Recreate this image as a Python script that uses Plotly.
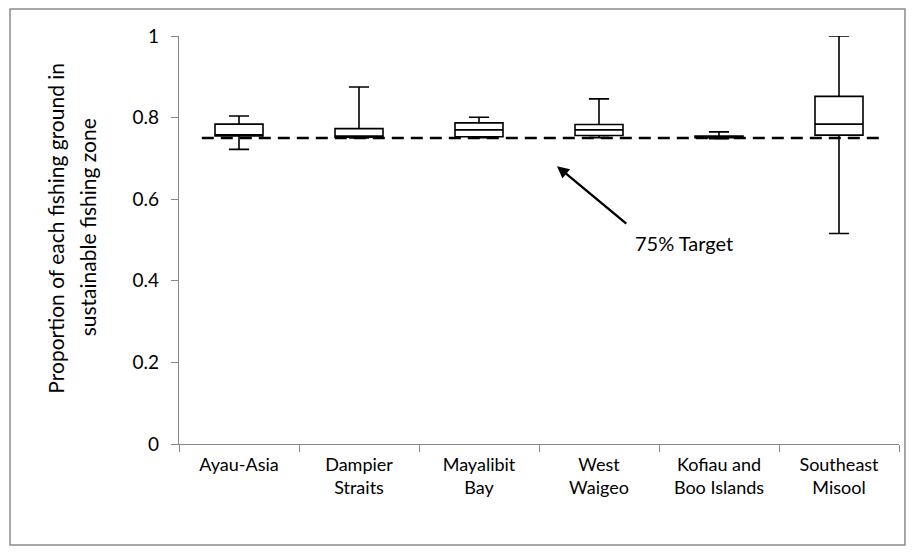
import plotly.graph_objects as go

categories = ["Ayau-Asia", "Dampier<br>Straits", "Mayalibit<br>Bay", "West<br>Waigeo",
              "Kofiau and<br>Boo Islands", "Southeast<br>Misool"]
lower_whisker = [0.722, 0.750, 0.751, 0.751, 0.748, 0.516]
q1 = [0.755, 0.752, 0.753, 0.756, 0.751, 0.757]
median = [0.758, 0.755, 0.770, 0.770, 0.753, 0.784]
q3 = [0.784, 0.773, 0.787, 0.783, 0.755, 0.852]
upper_whisker = [0.804, 0.875, 0.801, 0.846, 0.765, 1.0]
target = 0.75
y_ticks = [0, 0.2, 0.4, 0.6, 0.8, 1]
y_tick_text = ["0", "0.2", "0.4", "0.6", "0.8", "1"]
y_title_lines = ["Proportion of each fishing ground in", "sustainable fishing zone"]

FONT = "Lato"

fig = go.Figure()
fig.add_trace(go.Box(
    x=categories, q1=q1, median=median, q3=q3,
    lowerfence=lower_whisker, upperfence=upper_whisker,
    fillcolor="white", line=dict(color="black", width=1.6),
    width=0.4, whiskerwidth=0.42, boxpoints=False, showlegend=False,
    hoverinfo="skip",
))

# 75% target dashed line
fig.add_shape(type="line", xref="x", yref="y", x0=-0.31, x1=5.36, y0=target, y1=target,
              line=dict(color="black", width=2.6, dash="12px,7px"), layer="above")

# arrow
fig.add_annotation(x=2.65, y=0.681, ax=3.24, ay=0.537, xref="x", yref="y",
                   axref="x", ayref="y", showarrow=True, arrowhead=2, arrowsize=1,
                   arrowwidth=2.4, arrowcolor="black", text="")
fig.add_annotation(x=3.28, y=0.493, xref="x", yref="y", text="75% Target",
                   showarrow=False, xanchor="left", yanchor="middle",
                   font=dict(family=FONT, size=20, color="black"))

# y-axis title (two rotated lines)
for txt, xp in zip(y_title_lines, [-0.171, -0.127]):
    fig.add_annotation(x=xp, y=0.53, xref="paper", yref="paper", text=txt,
                       textangle=-90, showarrow=False, xanchor="center", yanchor="middle",
                       font=dict(family=FONT, size=21, color="black"))

# outer border
fig.add_shape(type="rect", xref="paper", yref="paper",
              x0=-0.2347, x1=1.0083, y0=-0.2475, y1=1.066,
              line=dict(color="#8c8c8c", width=1.5), fillcolor="rgba(0,0,0,0)")

fig.update_layout(
    width=914, height=553,
    margin=dict(l=171, r=23, t=28, b=117),
    paper_bgcolor="white", plot_bgcolor="white",
    font=dict(family=FONT, size=18, color="black"),
    xaxis=dict(showline=True, linecolor="#868686", linewidth=1.3, ticks="outside",
               tickson="boundaries", ticklen=7, tickcolor="#868686", showgrid=False,
               zeroline=False, tickfont=dict(size=18, family=FONT), ticklabelstandoff=4,
               fixedrange=True),
    yaxis=dict(range=[0, 1], tickvals=y_ticks, ticktext=y_tick_text, showline=True,
               linecolor="#868686", linewidth=1.3, ticks="outside", ticklen=7,
               tickcolor="#868686", showgrid=False, zeroline=False,
               tickfont=dict(size=19, family=FONT), ticklabelstandoff=8),
)

fig.write_html("out.html")
